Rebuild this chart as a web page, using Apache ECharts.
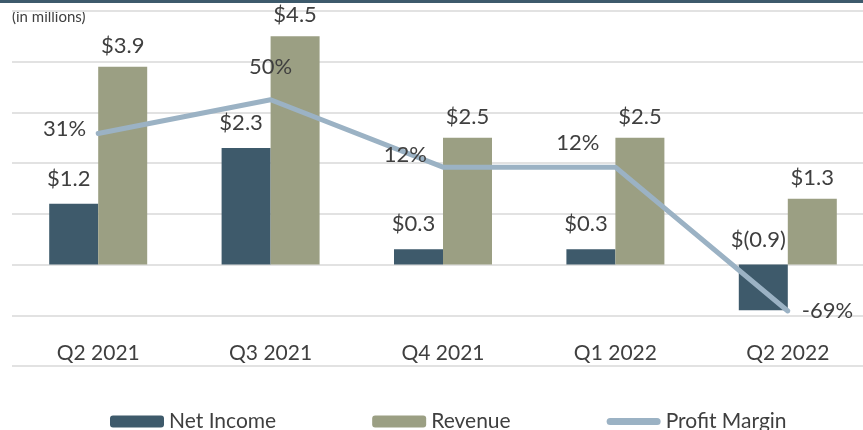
<!DOCTYPE html>
<html>
<head>
<meta charset="utf-8">
<script src="https://cdn.jsdelivr.net/npm/echarts@6/dist/echarts.min.js"></script>
<style>
	html, body { margin: 0; padding: 0; background: #fff; }
	#chart { width: 863px; height: 430px; }
</style>
</head>
<body>
<div id="chart"></div>
<script>
var categories = ["Q2 2021", "Q3 2021", "Q4 2021", "Q1 2022", "Q2 2022"];
var netIncome = [1.2, 2.3, 0.3, 0.3, -0.9];
var revenue = [3.9, 4.5, 2.5, 2.5, 1.3];
var profitMargin = [31, 50, 12, 12, -69];
var valueTicks = { min: -2, max: 5, interval: 1 };

// label placement for the margin line (style only)
var marginLabelPos = [
	{ position: "left", distance: 10, offset: [0, -5] },
	{ position: "top", distance: 20, offset: [0, 0] },
	{ position: "left", distance: 14, offset: [0, -12] },
	{ position: "left", distance: 14, offset: [0, -24] },
	{ position: "right", distance: 10, offset: [2, 0] }
];

var txt = "#3f3f3f",
	font = "Lato";

function money(v) {
	return v < 0 ? "$(" + Math.abs(v).toFixed(1) + ")" : "$" + v.toFixed(1);
}

var chart = echarts.init(document.getElementById("chart"));
chart.setOption({
	animation: false,
	textStyle: { fontFamily: font, color: txt },
	graphic: [{
		type: "rect",
		shape: { x: 0, y: 0, width: 863, height: 3 },
		style: { fill: "#3d5a6c" }
	}, {
		type: "text",
		left: 12,
		top: 10,
		style: { text: "(in millions)", fontFamily: font, fontSize: 15, fill: txt }
	}],
	grid: { left: 12, width: 862, top: 11, bottom: 64, outerBoundsMode: "none", containLabel: false },
	legend: {
		left: 110,
		top: 411,
		padding: 0,
		itemWidth: 54,
		itemHeight: 12,
		itemGap: 96,
		textStyle: { fontFamily: font, fontSize: 21, color: txt },
		data: ["Net Income", "Revenue", {
			name: "Profit Margin",
			icon: "path://M0,0 M54,12 M3.5,2.5 L50.5,2.5 A3.5,3.5 0 0 1 50.5,9.5 L3.5,9.5 A3.5,3.5 0 0 1 3.5,2.5 Z"
		}]
	},
	xAxis: {
		type: "category",
		data: categories,
		axisLine: { show: false, onZero: false },
		axisTick: { show: false },
		axisLabel: { margin: -23, fontSize: 21, color: txt, fontFamily: font }
	},
	yAxis: [{
		type: "value",
		min: valueTicks.min,
		max: valueTicks.max,
		interval: valueTicks.interval,
		axisLabel: { show: false },
		axisLine: { show: false },
		axisTick: { show: false },
		splitLine: { lineStyle: { color: "#e2e2e2", width: 2 } }
	}, {
		type: "value",
		min: -100,
		max: 100,
		show: false,
		splitLine: { show: false }
	}],
	series: [{
		name: "Net Income",
		type: "bar",
		data: netIncome,
		barWidth: 49,
		barGap: "0%",
		itemStyle: { color: "#3e5a6b" },
		label: {
			show: true,
			position: "top",
			distance: 14,
			offset: [-5, 0],
			fontSize: 22,
			fontFamily: font,
			color: txt,
			formatter: function(p) { return money(p.value); }
		}
	}, {
		name: "Revenue",
		type: "bar",
		data: revenue,
		barWidth: 49,
		itemStyle: { color: "#9b9f83" },
		label: {
			show: true,
			position: "top",
			distance: 10,
			fontSize: 22,
			fontFamily: font,
			color: txt,
			formatter: function(p) { return money(p.value); }
		}
	}, {
		name: "Profit Margin",
		type: "line",
		yAxisIndex: 1,
		symbol: "circle",
		symbolSize: 4,
		showSymbol: true,
		lineStyle: { color: "#9bb2c4", width: 5, cap: "round" },
		itemStyle: { color: "#9bb2c4" },
		z: 5,
		data: profitMargin.map(function(v, i) {
			var p = marginLabelPos[i];
			return {
				value: v,
				label: { show: true, position: p.position, distance: p.distance, offset: p.offset }
			};
		}),
		label: {
			show: true,
			fontSize: 22,
			fontFamily: font,
			color: txt,
			formatter: function(p) { return p.value + "%"; }
		}
	}]
});
</script>
</body>
</html>
